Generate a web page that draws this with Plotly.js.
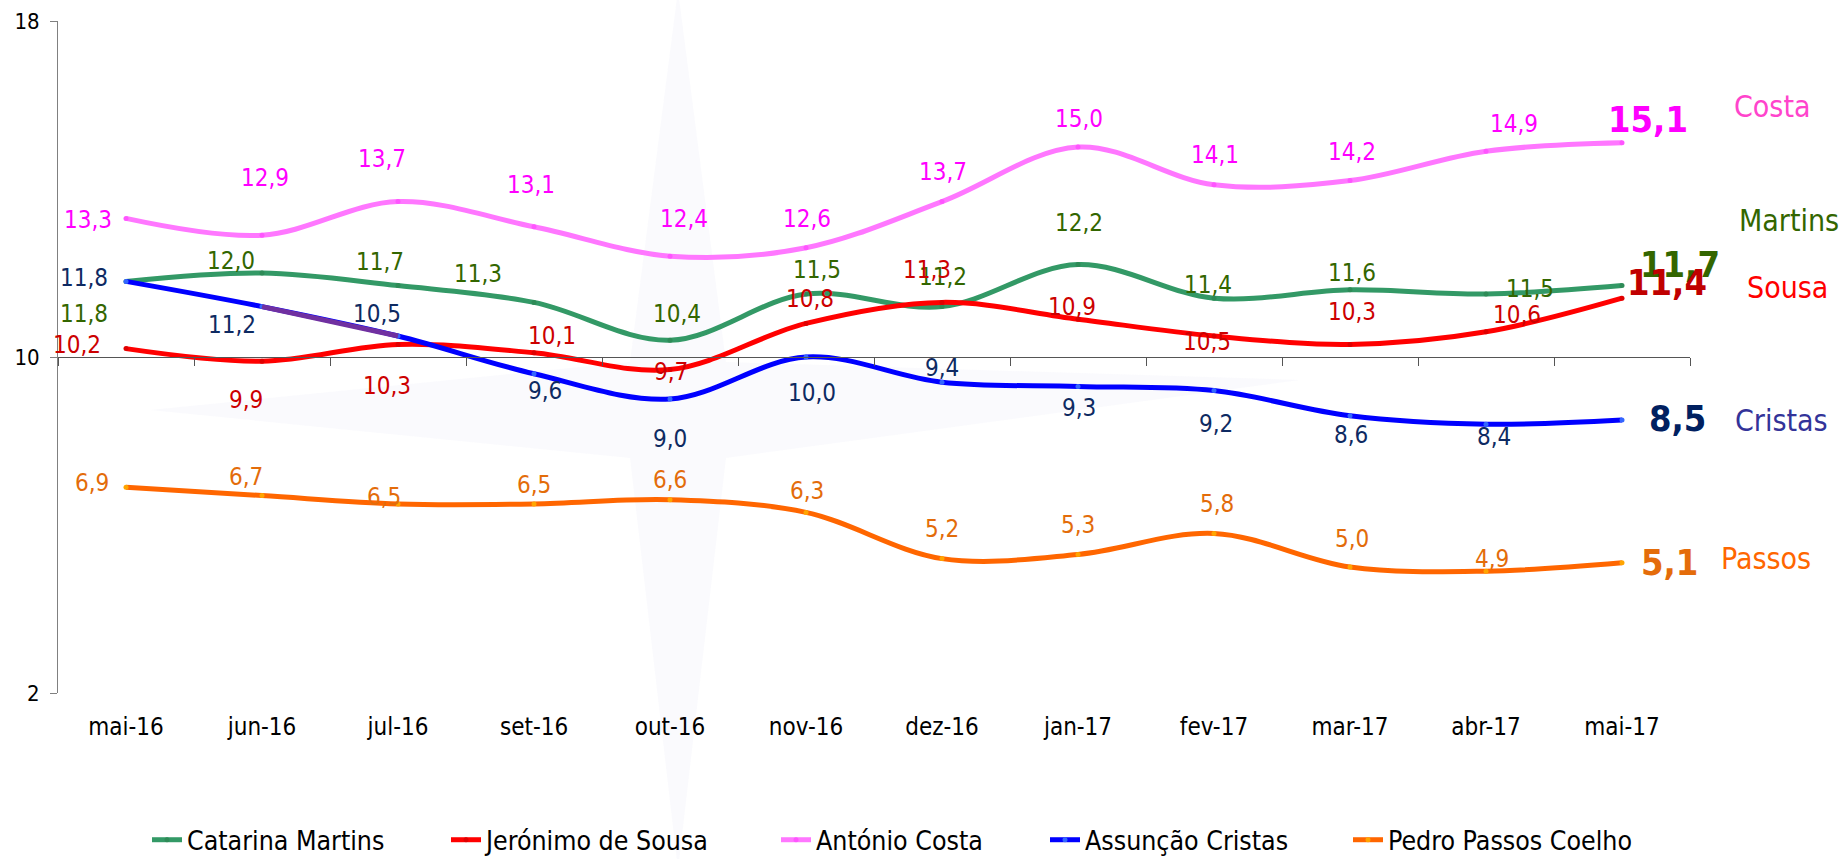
<!DOCTYPE html>
<html><head><meta charset="utf-8">
<script src="https://cdn.plot.ly/plotly-3.0.1.min.js"></script>
<style>html,body{margin:0;padding:0;background:#fff;} #chart{width:1845px;height:859px;}</style>
</head><body><div id="chart"></div>
<script>
// ---------- data ----------
const categories = ['mai-16','jun-16','jul-16','set-16','out-16','nov-16','dez-16','jan-17','fev-17','mar-17','abr-17','mai-17'];
const martins = [11.8,12.0,11.7,11.3,10.4,11.5,11.2,12.2,11.4,11.6,11.5,11.7];
const sousa   = [10.2,9.9,10.3,10.1,9.7,10.8,11.3,10.9,10.5,10.3,10.6,11.4];
const costa   = [13.3,12.9,13.7,13.1,12.4,12.6,13.7,15.0,14.1,14.2,14.9,15.1];
const cristas = [11.8,11.2,10.5,9.6,9.0,10.0,9.4,9.3,9.2,8.6,8.4,8.5];
const passos  = [6.9,6.7,6.5,6.5,6.6,6.3,5.2,5.3,5.8,5.0,4.9,5.1];
const seriesNames = ['Catarina Martins','Jerónimo de Sousa','António Costa','Assunção Cristas','Pedro Passos Coelho'];
const shortNames = ['Martins','Sousa','Costa','Cristas','Passos'];
const yTickValues = [2,10,18];
const yTickLabels = ['2','10','18'];

// ---------- styles / label placement (pixel offsets, dy positive = down) ----------
const F = '"DejaVu Sans Condensed", "DejaVu Sans", sans-serif';
const lineColors   = ['#339966','#FF0000','#FF77FF','#0000FF','#FF6600'];
const markerColors = ['#2E8B57','#E00000','#FF55FF','#3366FF','#FFA500'];
const labelColors  = ['#336600','#CC0000','#FF00FF','#0E2A62','#E36C0A'];
const finalColors  = ['#336600','#C00000','#FF00FF','#002060','#E46C0A'];
const nameColors   = ['#336600','#FF0000','#FF44CC','#333399','#FF6600'];
const legendWidths = [254,285,224,258,262];
const labelOffsets = [
  [[-42,33],[-31,-12],[-18,-24],[-56,-28],[7,-26],[11,-24],[1,-30],[1,-42],[-6,-13],[2,-17],[44,-5]],
  [[-49,-4],[-16,39],[-11,42],[18,-17],[1,2],[4,-24],[-15,-32],[-6,-12],[-7,6],[2,-32],[31,-17]],
  [[-38,2],[3,-57],[-16,-43],[-3,-42],[14,-37],[1,-29],[1,-30],[1,-28],[1,-30],[2,-29],[28,-27]],
  [[-42,-3],[-30,18],[-21,-22],[11,17],[0,40],[6,36],[0,-14],[1,22],[2,33],[1,19],[8,13]],
  [[-34,-4],[-16,-19],[-14,-7],[0,-19],[0,-20],[1,-21],[0,-30],[0,-29],[3,-29],[2,-28],[6,-12]]
];
const finalOffsets = [[58,-21],[45,-16],[26,-23],[55,-2],[47,0]];
const nameOffsets  = [[167,-65],[165,-11],[150,-36],[159,0],[144,-4]];

const allSeries = [martins, sousa, costa, cristas, passos];
const fmt = v => v.toFixed(1).replace('.', ',');

const traces = allSeries.map((vals, s) => ({
  type:'scatter', mode:'lines+markers', name: seriesNames[s],
  x: categories, y: vals,
  line:{color: lineColors[s], width:5, shape:'spline', smoothing:1},
  marker:{size:5, color: markerColors[s]},
  legendwidth: legendWidths[s],
  cliponaxis:false, hoverinfo:'x+y'
}));
// helper trace so the overlaid axis (drawn at y = 10) knows all categories
traces.push({type:'scatter', mode:'lines', x: categories, y: passos, xaxis:'x2', yaxis:'y',
  opacity:0, showlegend:false, hoverinfo:'skip'});
// highlighted segment of Cristas line (jun-16 to jul-16)
traces.push({type:'scatter', mode:'lines', x: categories.slice(1,3), y: cristas.slice(1,3),
  xaxis:'x2', yaxis:'y', line:{color:'#7030A0', width:5}, showlegend:false, hoverinfo:'skip'});

const annotations = [];
allSeries.forEach((vals, s) => {
  const last = vals.length - 1;
  vals.forEach((v, i) => {
    if (i === last) return;
    const [dx, dy] = labelOffsets[s][i];
    annotations.push({x: categories[i], y: v, xref:'x', yref:'y', text: fmt(v), showarrow:false,
      xshift: dx, yshift: -dy, font:{family:F, size:24, color: labelColors[s]}});
  });
  const [fx, fy] = finalOffsets[s];
  annotations.push({x: categories[last], y: vals[last], xref:'x', yref:'y', text: fmt(vals[last]), showarrow:false,
    xshift: fx, yshift: -fy, font:{family:F, size:36, weight:'bold', color: finalColors[s]}});
  const [nx, ny] = nameOffsets[s];
  annotations.push({x: categories[last], y: vals[last], xref:'x', yref:'y', text: shortNames[s], showarrow:false,
    xshift: nx, yshift: -ny, font:{family:F, size:30, color: nameColors[s]}});
});

// faint watermark star (decorative background)
const L=58, R=1690, T=21, B=693;
const px = x => ((x-L)/(R-L)).toFixed(4);
const py = y => ((B-y)/(B-T)).toFixed(4);
const cx=678, cy=410, w=48;
const starPath = `M ${px(cx)} ${py(-10)} L ${px(cx+w)} ${py(cy-w)} L ${px(1300)} ${py(cy-30)} L ${px(cx+w)} ${py(cy+w)} L ${px(cx)} ${py(870)} L ${px(cx-w)} ${py(cy+w)} L ${px(150)} ${py(cy)} L ${px(cx-w)} ${py(cy-w)} Z`;

const layout = {
  width:1845, height:859, autosize:false,
  margin:{l:58, r:155, t:21, b:166, pad:0, autoexpand:false},
  paper_bgcolor:'#ffffff', plot_bgcolor:'rgba(0,0,0,0)',
  font:{family:F, size:22, color:'#000'},
  showlegend:true,
  legend:{orientation:'h', x:(147-L)/(R-L), xanchor:'left', y:-(840-B)/(B-T), yanchor:'middle',
    font:{family:F, size:26.5, color:'#000'}, bgcolor:'rgba(0,0,0,0)', itemwidth:30},
  xaxis:{type:'category', categoryorder:'array', categoryarray:categories, range:[-0.5,11.5],
    showline:false, ticks:'', showgrid:false, zeroline:false, automargin:false,
    tickfont:{family:F, size:24, color:'#000'}, ticklabelstandoff:17},
  xaxis2:{type:'category', categoryorder:'array', categoryarray:categories, range:[-0.5,11.5],
    overlaying:'x', anchor:'free', position:0.5, side:'bottom', automargin:false,
    showline:true, linecolor:'#555555', linewidth:1, ticks:'outside', ticklen:8, tickcolor:'#555555',
    tickson:'boundaries', showticklabels:false, showgrid:false, zeroline:false},
  yaxis:{range:[2,18], tickvals:yTickValues, ticktext:yTickLabels, showline:true, linecolor:'#808080', linewidth:1,
    ticks:'outside', ticklen:7, tickcolor:'#808080', showgrid:false, zeroline:false, automargin:false,
    tickfont:{family:F, size:22, color:'#000'}, ticklabelstandoff:6},
  shapes:[{type:'path', xref:'paper', yref:'paper', path:starPath, layer:'below',
    fillcolor:'rgba(226,230,244,0.18)', line:{width:0}}],
  annotations: annotations
};

Plotly.newPlot('chart', traces, layout, {displayModeBar:false, staticPlot:true});
</script>
</body></html>
